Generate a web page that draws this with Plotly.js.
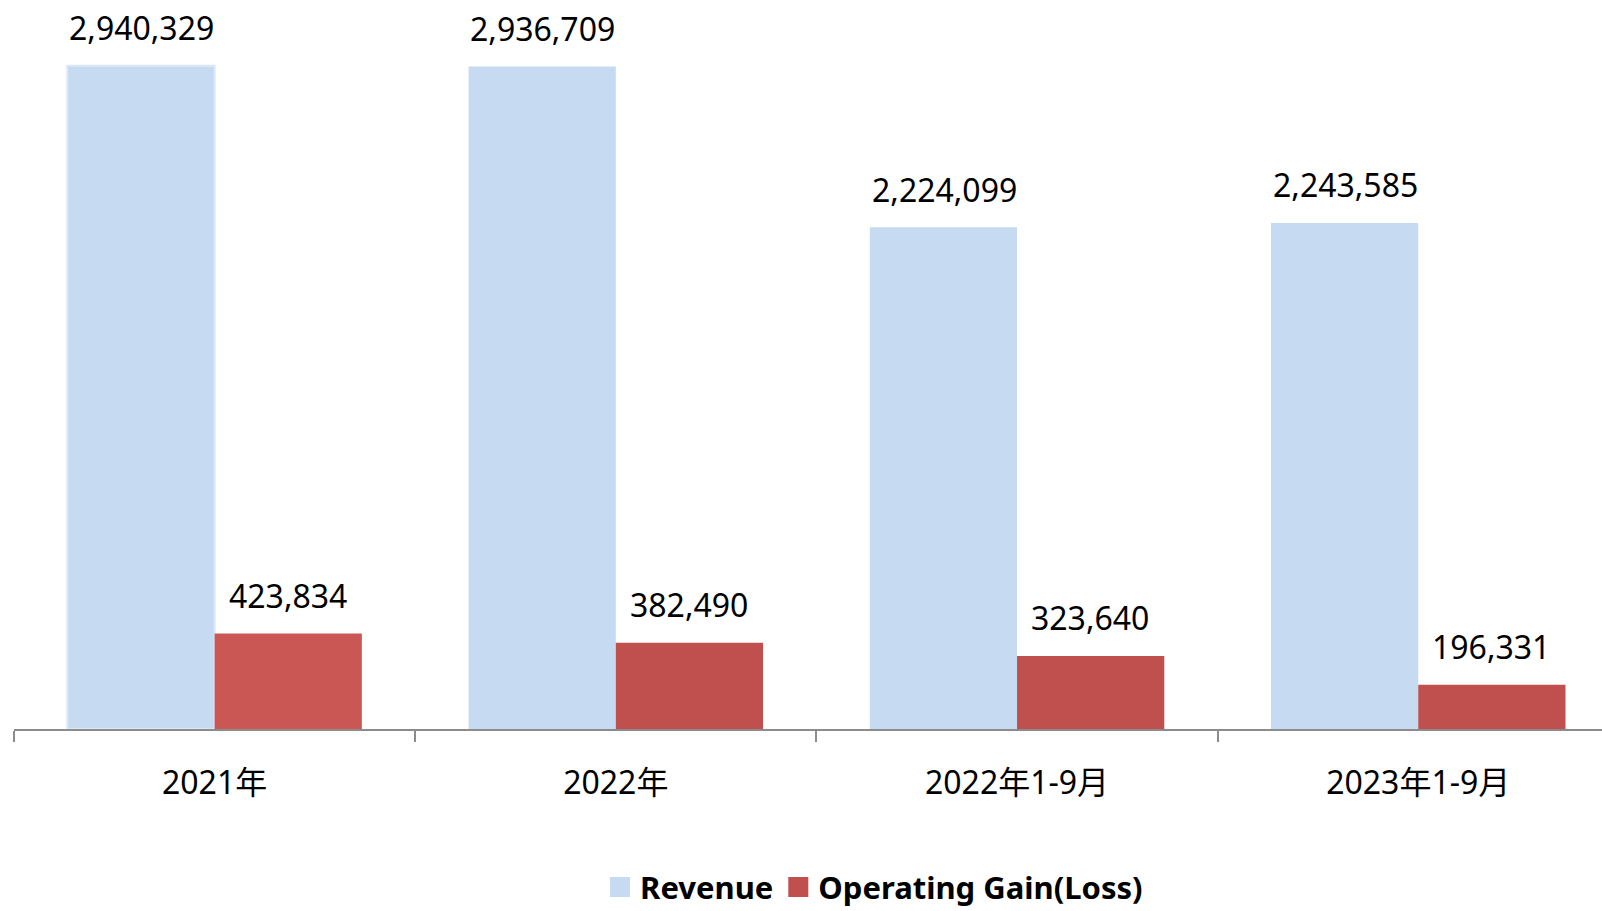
<!DOCTYPE html>
<html>
<head>
<meta charset="utf-8">
<script src="https://cdn.plot.ly/plotly-3.0.1.min.js"></script>
<style>html,body{margin:0;padding:0;background:#fff;}#chart{width:1602px;height:911px;}</style>
</head>
<body>
<div id="chart"></div>
<script>
const categories = ['2021年', '2022年', '2022年1-9月', '2023年1-9月'];
const revenue = [2940329, 2936709, 2224099, 2243585];
const operatingGain = [423834, 382490, 323640, 196331];
const seriesNames = ['Revenue', 'Operating Gain(Loss)'];
const revenueColor = '#C6DBF1';
const gainColors = ['#CB5754', '#C0504D', '#C0504D', '#C0504D'];

const FONT = 'Noto Sans, Noto Sans CJK TC, sans-serif';
const fmt = v => v.toLocaleString('en-US');

const traces = [
  {type: 'bar', x: categories, y: revenue, name: seriesNames[0], showlegend: false,
   marker: {color: revenueColor,
            line: {width: [2, 0, 0, 0], color: ['#DCE7F5', revenueColor, revenueColor, revenueColor]}},
   hoverinfo: 'x+y'},
  {type: 'bar', x: categories, y: operatingGain, name: seriesNames[1], showlegend: false,
   marker: {color: gainColors, line: {width: 0}}, hoverinfo: 'x+y'},
  {type: 'scatter', mode: 'markers', x: [null], y: [null], name: seriesNames[0],
   marker: {symbol: 'square', size: 16, color: revenueColor, line: {width: 4, color: revenueColor}}},
  {type: 'scatter', mode: 'markers', x: [null], y: [null], name: seriesNames[1],
   marker: {symbol: 'square', size: 16, color: gainColors[1], line: {width: 4, color: gainColors[1]}}}
];

const annotations = [];
categories.forEach((c, i) => {
  annotations.push({x: c, y: revenue[i], xref: 'x', yref: 'y', text: fmt(revenue[i]),
    showarrow: false, xshift: -73, yshift: 38, yanchor: 'middle', xanchor: 'center',
    font: {family: FONT, size: 32, color: '#000'}});
  annotations.push({x: c, y: operatingGain[i], xref: 'x', yref: 'y', text: fmt(operatingGain[i]),
    showarrow: false, xshift: 73, yshift: 38, yanchor: 'middle', xanchor: 'center',
    font: {family: FONT, size: 32, color: '#000'}});
});

const layout = {
  width: 1602, height: 911,
  margin: {l: 14, r: 0, t: 0, b: 182, pad: 0},
  paper_bgcolor: '#fff', plot_bgcolor: '#fff',
  barmode: 'group', bargap: 0.266, bargroupgap: 0,
  font: {family: FONT, size: 32, color: '#000'},
  xaxis: {
    type: 'category', range: [-0.5, 3.458], fixedrange: true,
    showline: true, linecolor: '#8C8C8C', linewidth: 2,
    ticks: 'outside', tickson: 'boundaries', ticklen: 11, tickwidth: 2, tickcolor: '#8C8C8C',
    ticklabelstandoff: 25,
    tickfont: {family: FONT, size: 32, color: '#000'},
    showgrid: false, zeroline: false
  },
  yaxis: {
    range: [0, 3231600], visible: false, showgrid: false, zeroline: false, fixedrange: true
  },
  showlegend: true,
  legend: {
    orientation: 'h', xref: 'container', yref: 'container',
    x: 0.5456, xanchor: 'center', y: 0.026, yanchor: 'middle',
    font: {family: FONT, size: 31, color: '#000', weight: 'bold'},
    itemsizing: 'trace', itemwidth: 30, tracegroupgap: 0
  },
  annotations: annotations
};

Plotly.newPlot('chart', traces, layout, {displayModeBar: false, responsive: false});
</script>
</body>
</html>
